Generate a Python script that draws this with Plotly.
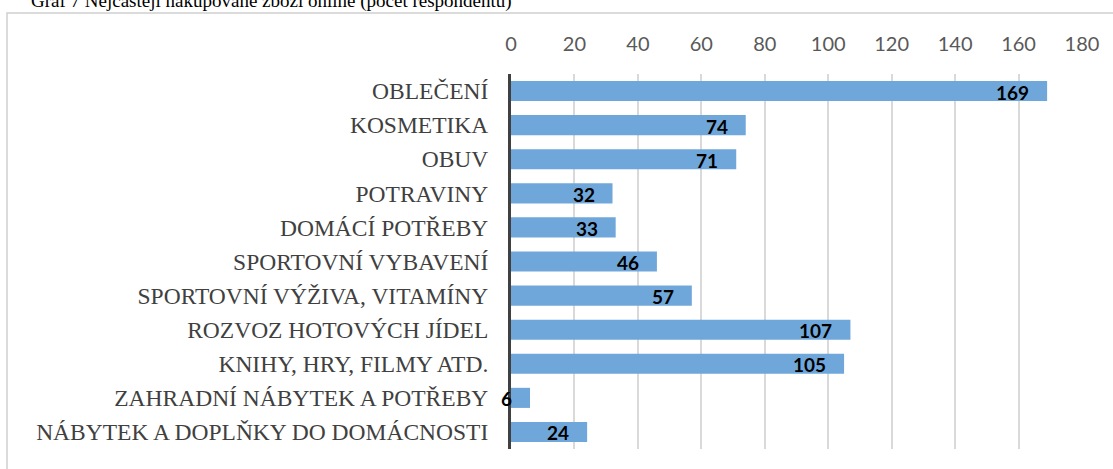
import plotly.graph_objects as go

categories = [
    "OBLEČENÍ",
    "KOSMETIKA",
    "OBUV",
    "POTRAVINY",
    "DOMÁCÍ POTŘEBY",
    "SPORTOVNÍ VYBAVENÍ",
    "SPORTOVNÍ VÝŽIVA, VITAMÍNY",
    "ROZVOZ HOTOVÝCH JÍDEL",
    "KNIHY, HRY, FILMY ATD.",
    "ZAHRADNÍ NÁBYTEK A POTŘEBY",
    "NÁBYTEK A DOPLŇKY DO DOMÁCNOSTI",
]
values = [169, 74, 71, 32, 33, 46, 57, 107, 105, 6, 24]
x_ticks = [0, 20, 40, 60, 80, 100, 120, 140, 160, 180]
title_text = "Graf 7 Nejčastěji nakupované zboží online (počet respondentů)"

W, H = 1113, 469
L, R, T, B = 511, 31, 74, 20
pw = W - L - R
ph = H - T - B

def px_x(p):
    return (p - L) / pw

def px_y(p):
    return (H - B - p) / ph

fig = go.Figure()
fig.add_trace(go.Bar(
    y=categories,
    x=values,
    orientation="h",
    marker=dict(color="#70A7DB", line=dict(width=0)),
    hoverinfo="skip",
))

annotations = [
    dict(x=v, y=c, xref="x", yref="y", text=str(v), showarrow=False,
         xanchor="right", yanchor="middle", xshift=-16, yshift=-1,
         font=dict(family="Lato, Open Sans, sans-serif", size=19, color="black", weight="bold"))
    for c, v in zip(categories, values)
]
annotations.append(
    dict(text=title_text, xref="paper", yref="paper",
         x=px_x(29), y=px_y(1), xanchor="left", yanchor="middle",
         showarrow=False,
         font=dict(family="Liberation Serif, Times New Roman, serif", size=19, color="black"))
)

fig.update_layout(
    width=W, height=H,
    margin=dict(l=L, r=R, t=T, b=B, autoexpand=False),
    paper_bgcolor="white",
    plot_bgcolor="white",
    showlegend=False,
    bargap=0.41,
    xaxis=dict(
        side="top",
        range=[0, 180],
        tickvals=x_ticks,
        ticktext=[str(t) for t in x_ticks],
        showgrid=True,
        gridcolor="#D9D9D9",
        gridwidth=1.5,
        zeroline=False,
        showline=False,
        ticks="",
        ticklabelstandoff=18,
        tickfont=dict(family="Lato, Open Sans, sans-serif", size=20, color="#595959"),
        fixedrange=True,
    ),
    yaxis=dict(
        categoryorder="array",
        categoryarray=categories[::-1],
        showgrid=False,
        zeroline=False,
        showline=True,
        linecolor="#404040",
        linewidth=3,
        ticks="",
        ticklabelstandoff=15,
        tickfont=dict(family="Liberation Serif, Times New Roman, serif", size=23.5, color="#404040"),
        fixedrange=True,
    ),
    shapes=[
        dict(type="rect", xref="paper", yref="paper",
             x0=px_x(7), x1=px_x(1125), y0=px_y(480), y1=px_y(13),
             line=dict(color="#D0D0D0", width=1.5), fillcolor="rgba(0,0,0,0)", layer="below"),
    ],
    annotations=annotations,
)

fig.write_html("out.html", config={"displayModeBar": False},
               post_script="document.body.style.margin='0';document.body.style.overflow='hidden';")
